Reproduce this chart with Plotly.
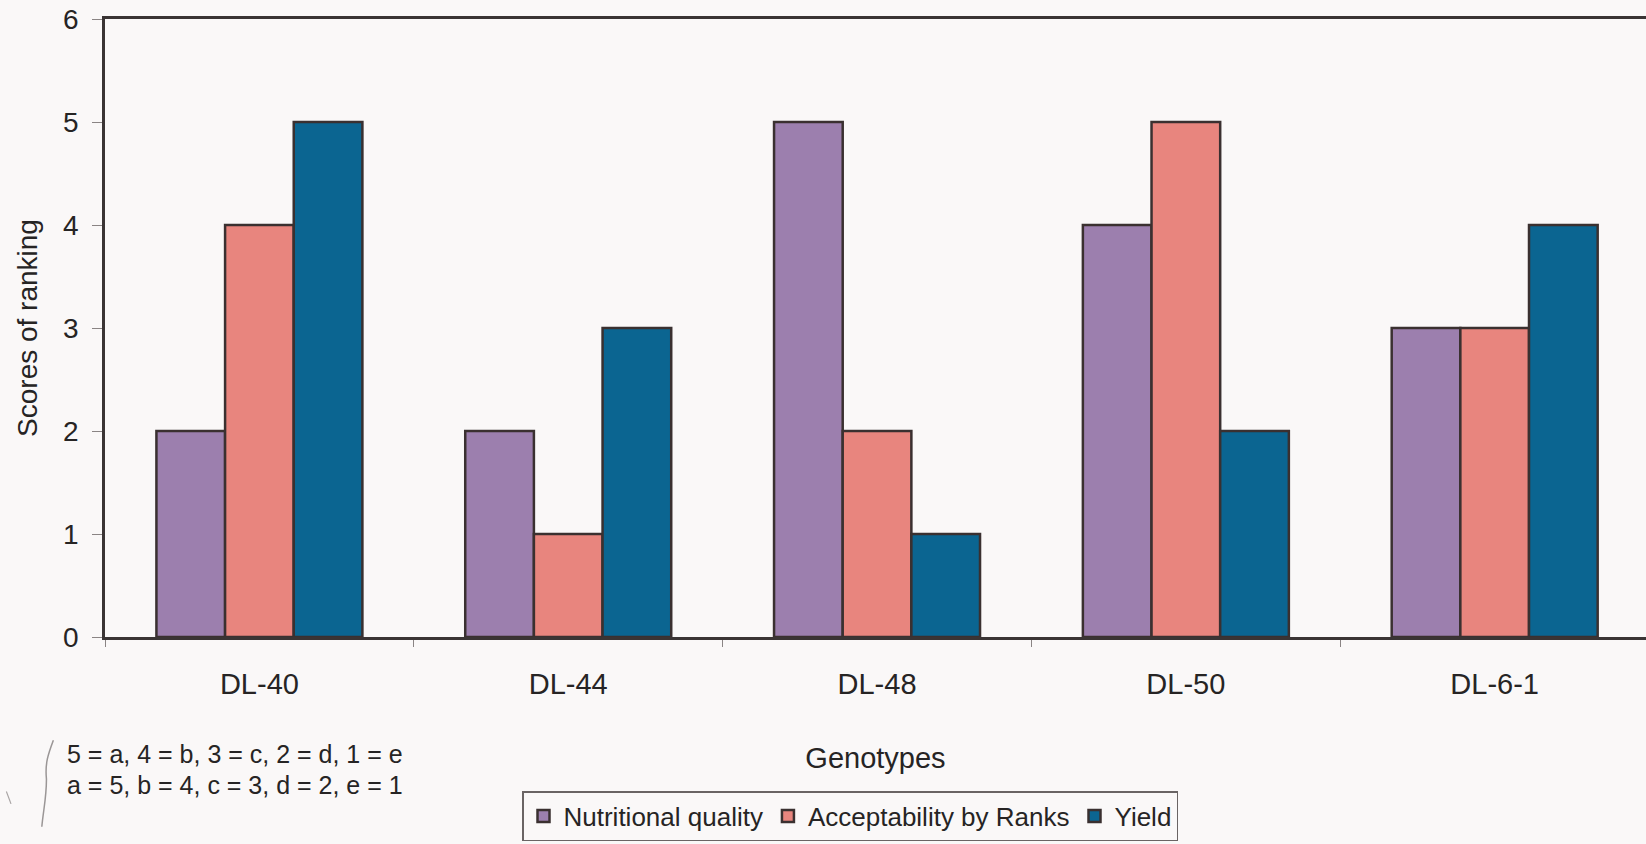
import plotly.graph_objects as go

# Genotypes ranked on three criteria (score 5 = best)
genotypes = ["DL-40", "DL-44", "DL-48", "DL-50", "DL-6-1"]
nutritional_quality = [2, 2, 5, 4, 3]
acceptability_by_ranks = [4, 1, 2, 5, 3]
yield_scores = [5, 3, 1, 2, 4]

series_names = ["Nutritional quality", "Acceptability by Ranks", "Yield"]
series_values = [nutritional_quality, acceptability_by_ranks, yield_scores]
series_colors = ["#9C7FAE", "#E8857E", "#0B6591"]

y_ticks = [0, 1, 2, 3, 4, 5, 6]

FONT = "Liberation Sans, Arial, sans-serif"
TEXT = "#262424"
BG = "#FAF8F8"

fig = go.Figure()
for name, vals, col in zip(series_names, series_values, series_colors):
    fig.add_trace(go.Bar(
        x=genotypes, y=vals, name=name,
        marker=dict(color=col, line=dict(color="#3A3030", width=2.5)),
    ))

fig.update_layout(
    width=1646, height=844,
    margin=dict(l=105, r=0, t=19, b=207),
    paper_bgcolor=BG, plot_bgcolor=BG,
    barmode="group", bargap=0.333, bargroupgap=0,
    font=dict(family=FONT, size=28, color=TEXT),
    showlegend=True,
    legend=dict(
        orientation="h",
        xref="container", yref="container",
        x=522 / 1646, y=3 / 844,
        xanchor="left", yanchor="bottom",
        bordercolor="#6A6464", borderwidth=1.5,
        bgcolor=BG,
        font=dict(family=FONT, size=26, color=TEXT),
        itemwidth=30, tracegroupgap=0,
    ),
)

fig.update_xaxes(
    range=[-0.5, 4.49],
    showline=True, linecolor="#3A3434", linewidth=2.5, mirror=True,
    ticks="outside", tickson="boundaries", ticklen=7, tickcolor="#8A8484", tickwidth=1,
    showgrid=False, zeroline=False,
    tickfont=dict(size=29, color=TEXT),
    ticklabelstandoff=19,
    title=dict(text="Genotypes", font=dict(size=29, color=TEXT), standoff=50),
)

fig.update_yaxes(
    range=[0, 6], tickvals=y_ticks,
    showline=True, linecolor="#3A3434", linewidth=2.5, mirror=False,
    ticks="outside", ticklen=10, tickcolor="#8A8484", tickwidth=1,
    showgrid=False, zeroline=False,
    tickfont=dict(size=28, color=TEXT),
    ticklabelstandoff=8,
    title=dict(text="Scores of ranking", font=dict(size=28, color=TEXT), standoff=18),
)

# Key to the letter grades, bottom left
fig.add_annotation(
    xref="paper", yref="paper", x=-0.025, y=-0.190, xanchor="left", yanchor="middle",
    text="5 = a, 4 = b, 3 = c, 2 = d, 1 = e", showarrow=False,
    font=dict(size=25, color=TEXT, family=FONT), borderpad=0,
)
fig.add_annotation(
    xref="paper", yref="paper", x=-0.025, y=-0.240, xanchor="left", yanchor="middle",
    text="a = 5, b = 4, c = 3, d = 2, e = 1", showarrow=False,
    font=dict(size=25, color=TEXT, family=FONT), borderpad=0,
)

# Pencil brace beside the key
fig.add_shape(
    type="path", xref="paper", yref="paper",
    path="M -0.0335 -0.167 C -0.037 -0.19, -0.039 -0.205, -0.038 -0.23 C -0.038 -0.26, -0.040 -0.28, -0.041 -0.307",
    line=dict(color="#9A9696", width=1.5),
)
fig.add_shape(
    type="path", xref="paper", yref="paper",
    path="M -0.064 -0.25 L -0.061 -0.27",
    line=dict(color="#A8A4A4", width=1.2),
)

fig.write_html("out.html")
